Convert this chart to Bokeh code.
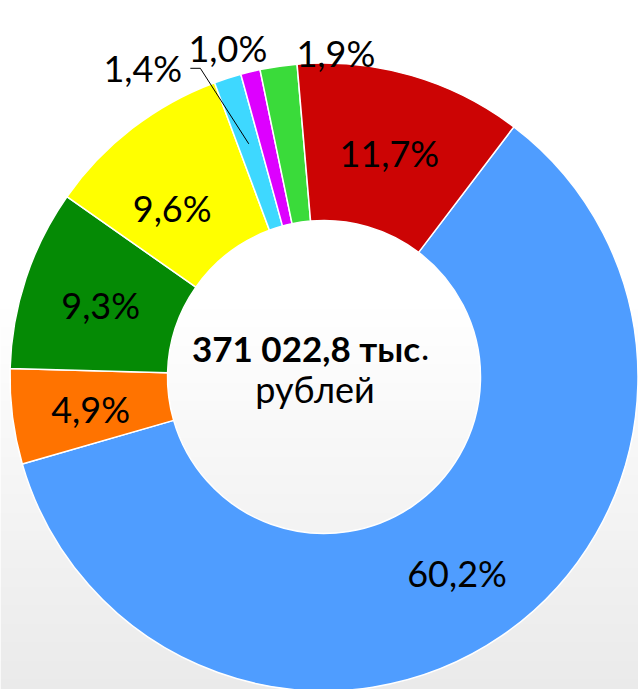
import numpy as np
from bokeh.plotting import figure
from bokeh.models import Range1d, ColumnDataSource
from bokeh.core.properties import value
from bokeh.embed import file_html
from bokeh.resources import INLINE

# ---- data ----
shares = [60.2, 4.9, 9.3, 9.6, 1.4, 1.0, 1.9, 11.7]
colors = ["#4F9DFF", "#FF7300", "#058A05", "#FFFF00", "#3ED8FF", "#DD00FF", "#3ADB3A", "#CC0404"]
labels = [f"{s:.1f}".replace(".", ",") + "%" for s in shares]
total_label = "371 022,8 тыс"
total_suffix = "."
unit_label = "рублей"

# ---- layout (reference pixel coordinates, y measured downwards) ----
W, H = 638, 689
X0, YTOP = 0, 0
cx, cy_ref = 323.5, 376.5
R_out, R_in = 314.0, 156.5
first_angle = 37.2  # degrees clockwise from 12 o'clock
# label nudges (dx, dy down) from the slice's mid-ring point
nudges = [(0, 2), (0, 2), (0, 2), (-8, 17), (-109, -85), (-41, -100), (46, -91), (0, 2)]
FONT = "Lato"


def ydata(y_ref):
    return (YTOP + H) - y_ref


p = figure(width=W, height=H, output_backend="svg", toolbar_location=None,
           x_range=Range1d(X0, X0 + W), y_range=Range1d(0, H),
           x_axis_type=None, y_axis_type=None, min_border=0)
p.grid.visible = False
p.outline_line_color = None
p.background_fill_color = "white"
p.border_fill_color = "white"

# background gradient (white at top -> light grey at bottom)
rows = []
for yd in range(H):
    yref = (YTOP + H) - yd
    g = 255 if yref < 300 else 255 - 21 * (yref - 300) / 389.0
    rows.append(int(round(g)))
img = np.zeros((H, 2), dtype=np.uint32)
view = img.view(dtype=np.uint8).reshape((H, 2, 4))
for i, g in enumerate(rows):
    view[i, :, 0] = g
    view[i, :, 1] = g
    view[i, :, 2] = g
    view[i, :, 3] = 255
p.image_rgba(image=[img], x=X0, y=0, dw=W, dh=H)

# wedge angles
fr = np.array(shares) / sum(shares)
ends = first_angle + np.cumsum(fr) * 360.0
starts = ends - fr * 360.0
mids = (starts + ends) / 2.0

src = ColumnDataSource(dict(
    start=np.radians(90 - starts), end=np.radians(90 - ends), color=colors))
p.annular_wedge(x=cx, y=ydata(cy_ref), inner_radius=R_in, outer_radius=R_out,
                start_angle="start", end_angle="end", direction="clock",
                fill_color="color", line_color="white", line_width=1.5, source=src)

# labels
r_mid = (R_in + R_out) / 2.0
lx, ly = [], []
for m, (dx, dy) in zip(mids, nudges):
    xr = cx + r_mid * np.sin(np.radians(m)) + dx
    yr = cy_ref - r_mid * np.cos(np.radians(m)) + dy
    lx.append(xr)
    ly.append(ydata(yr))
p.text(x=lx, y=ly, text=labels, text_font=value(FONT), text_font_size="36px",
       text_align="center", text_baseline="middle", text_color="black")

# leader line for the small cyan slice
ci = 4
mi = 5
ex = cx + 245 * np.sin(np.radians(mids[ci]))
ey = cy_ref - 245 * np.cos(np.radians(mids[ci]))
lab_x = lx[mi]
lab_y_ref = (YTOP + H) - ly[mi]
p.line(x=[lab_x - 37.5, lab_x - 27.5, ex],
       y=[ydata(lab_y_ref + 20), ydata(lab_y_ref + 20), ydata(ey)],
       line_color="black", line_width=1)

# center text
p.text(x=[cx + 96], y=[ydata(347)], text=[total_label], text_font=value(FONT),
       text_font_size="35px", text_font_style="bold", text_align="right",
       text_baseline="alphabetic", text_color="black")
p.text(x=[cx + 97], y=[ydata(347)], text=[total_suffix], text_font=value(FONT),
       text_font_size="35px", text_align="left",
       text_baseline="alphabetic", text_color="black")
p.text(x=[cx - 9], y=[ydata(388)], text=[unit_label], text_font=value(FONT),
       text_font_size="36px", text_align="center",
       text_baseline="alphabetic", text_color="black")

open("out.html", "w").write(file_html(p, INLINE))
